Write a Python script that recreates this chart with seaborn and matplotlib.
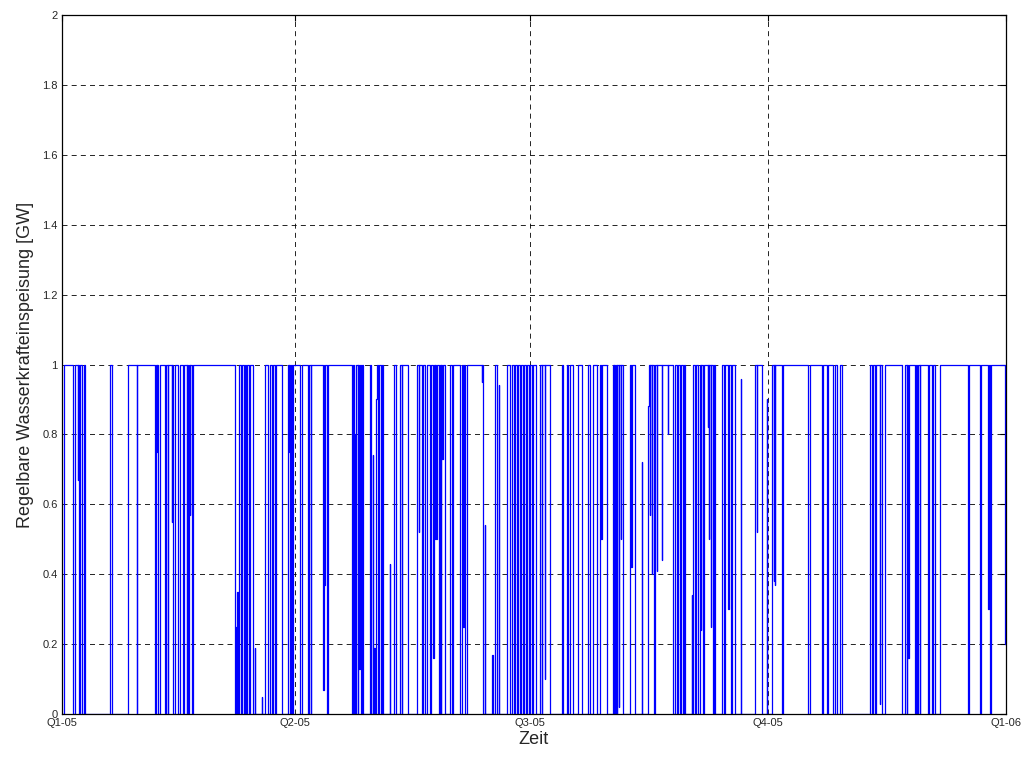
import matplotlib
matplotlib.use("Agg")
import matplotlib.pyplot as plt
import seaborn as sns
import pandas as pd

# Time of each level change (day of year 2005) and the level held from then on [GW]
t_day = [
    0.00, 0.89, 4.37, 5.03, 6.30, 6.38, 6.57, 7.15, 7.93, 8.51, 8.89,
    18.56, 19.33, 25.33, 25.52, 29.00, 29.19, 35.96, 36.35, 36.62, 36.73,
    37.12, 37.89, 39.82, 40.21, 40.98, 41.18, 42.42, 42.53, 42.92, 43.69,
    44.85, 45.62, 46.78, 47.29, 48.22, 48.52, 48.83, 49.10, 49.49, 49.61,
    50.26, 50.77, 66.89, 67.47, 67.55, 67.86, 67.93, 68.44, 69.21, 69.60,
    69.71, 70.37, 70.76, 71.34, 71.53, 72.30, 72.69, 73.85, 74.62, 74.70,
    77.33, 77.41, 78.49, 79.65, 80.42, 80.54, 81.20, 81.58, 82.36, 82.74,
    84.95, 87.50, 87.77, 87.89, 88.16, 88.54, 89.12, 89.51, 92.02, 92.68,
    95.00, 95.50, 96.28, 96.47, 101.03, 101.30, 101.42, 101.69, 102.35, 102.66,
    112.24, 112.71, 113.09, 113.29, 113.40, 113.68, 114.26, 114.45, 115.03, 115.22,
    115.61, 116.00, 116.50, 119.09, 119.67, 120.13, 120.25, 120.75, 121.02, 121.41,
    121.79, 122.18, 122.57, 123.34, 123.73, 124.23, 126.82, 126.94, 128.37, 128.48,
    129.14, 130.69, 131.34, 131.65, 133.90, 137.15, 138.03, 138.15, 139.08, 139.70,
    140.35, 141.01, 142.29, 142.67, 143.56, 143.68, 144.22, 144.34, 144.80, 144.99,
    145.77, 146.15, 146.54, 146.73, 147.04, 147.43, 148.09, 150.02, 150.68, 151.30,
    153.89, 154.54, 155.16, 155.28, 155.82, 156.48, 162.28, 162.39, 162.90, 163.55,
    163.67, 166.38, 166.49, 167.42, 168.19, 168.97, 169.08, 171.94, 172.06, 173.22,
    173.99, 174.77, 175.15, 175.93, 176.31, 177.09, 177.47, 178.25, 178.63, 179.41,
    179.79, 180.57, 180.95, 181.73, 182.11, 183.16, 183.27, 184.82, 185.48, 185.72,
    186.75, 186.87, 188.69, 188.80, 193.21, 193.83, 195.14, 195.76, 196.42, 197.58,
    199.63, 200.94, 203.50, 204.15, 205.31, 206.74, 208.02, 208.60, 208.71, 210.61,
    213.16, 213.43, 213.62, 214.01, 214.20, 214.59, 214.78, 215.36, 215.48, 216.14,
    216.33, 217.03, 219.62, 220.20, 220.39, 221.55, 224.14, 224.26, 226.69, 226.81,
    227.35, 227.47, 228.12, 228.24, 228.90, 229.28, 229.94, 230.06, 231.87, 231.99,
    234.19, 234.31, 236.36, 237.02, 237.79, 238.18, 238.95, 239.34, 240.11, 240.50,
    240.88, 243.47, 243.59, 244.09, 244.75, 245.14, 246.03, 246.68, 247.07, 247.19,
    247.84, 248.23, 249.78, 249.89, 250.16, 250.28, 250.94, 251.05, 251.71, 252.10,
    252.48, 255.07, 255.96, 256.35, 257.63, 257.74, 258.67, 259.06, 260.22, 262.54,
    262.65, 267.95, 268.61, 268.72, 270.54, 272.47, 272.59, 274.41, 274.52, 275.29,
    275.41, 275.68, 275.80, 278.27, 278.89, 288.33, 288.63, 289.21, 293.74, 294.36,
    295.67, 296.29, 298.22, 298.88, 299.54, 300.81, 301.47, 312.41, 313.19, 313.57,
    314.35, 314.73, 316.28, 316.39, 316.94, 318.21, 324.90, 325.95, 326.60, 326.91,
    327.22, 327.34, 329.81, 330.20, 330.59, 330.97, 331.75, 331.94, 334.95, 335.23,
    336.27, 336.77, 337.55, 339.48, 350.19, 350.58, 354.94, 355.33, 358.15, 358.27,
    358.81, 359.20, 364.61, 365.00,
]
p_gw = [
    0, 1, 0, 1, 0.67, 1, 0, 1, 0, 1, 0,
    1, 0, 0.9, 1, 0, 1, 0, 1, 0.75, 1,
    0, 1, 0, 1, 0, 1, 0.55, 1, 0, 1,
    0, 1, 0, 1, 0, 1, 0, 1, 0.57, 1,
    0, 1, 0, 0.25, 0, 0.35, 0, 1, 0, 0.86,
    1, 0, 1, 0, 1, 0, 1, 0, 0.19, 0,
    0.05, 0, 1, 0, 0.28, 1, 0, 1, 0, 1,
    0, 1, 0.75, 1, 0, 1, 0, 1, 0, 1,
    0, 1, 0, 1, 0.07, 1, 0.37, 1, 0, 1,
    0, 1, 0, 0.8, 0, 1, 0, 1, 0.13, 1,
    0, 1, 0, 1, 0, 0.74, 0, 0.19, 0, 0.9,
    1, 0, 1, 0, 1, 0, 0.43, 0, 0.5, 1,
    0, 1, 0, 1, 0, 1, 0.52, 1, 0, 1,
    0, 1, 0, 1, 0.16, 1, 0.5, 1, 0.5, 1,
    0, 1, 0, 1, 0.73, 1, 0, 1, 0, 1,
    0, 1, 0.25, 1, 0, 1, 0.95, 1, 0, 0.54,
    0, 0.17, 0, 1, 0, 0.94, 0, 0.84, 1, 0,
    1, 0, 1, 0, 1, 0, 1, 0, 1, 0,
    1, 0, 1, 0, 1, 0.13, 0, 1, 0, 1,
    0.1, 1, 0.22, 0, 1, 0, 1, 0, 1, 0,
    1, 0, 1, 0, 1, 0, 1, 0.5, 1, 0,
    1, 0, 1, 0, 1, 0, 1, 0.02, 1, 0.5,
    1, 0, 1, 0.42, 1, 0, 0.72, 0, 0.88, 1,
    0.57, 1, 0.4, 1, 0, 1, 0.41, 1, 0.44, 1,
    0.8, 1, 0, 1, 0, 1, 0, 1, 0, 1,
    0, 0.34, 0, 1, 0, 1, 0, 1, 0.24, 1,
    0, 1, 0.82, 1, 0.5, 1, 0.25, 1, 0, 1,
    0, 1, 0, 1, 0.3, 1, 0, 1, 0, 0.96,
    0, 1, 0.52, 1, 0, 0.9, 0, 0.48, 1, 0.38,
    1, 0.37, 1, 0, 1, 0.35, 0, 1, 0, 1,
    0, 1, 0, 1, 0, 1, 0, 1, 0, 1,
    0, 1, 0.03, 1, 0, 1, 0, 1, 0, 1,
    0.16, 1, 0, 1, 0, 1, 0, 1, 0, 1,
    0, 1, 0, 1, 0, 1, 0, 1, 0.3, 1,
    0, 1, 0.2, 0.2,
]

quarter_pos = [0, 90, 181, 273, 365]
quarter_labels = ["Q1-05", "Q2-05", "Q3-05", "Q4-05", "Q1-06"]
y_ticks = [0, 0.2, 0.4, 0.6, 0.8, 1.0, 1.2, 1.4, 1.6, 1.8, 2.0]
y_labels = ["0", "0.2", "0.4", "0.6", "0.8", "1", "1.2", "1.4", "1.6", "1.8", "2"]

df = pd.DataFrame({"Zeit": t_day, "P": p_gw})

sns.set_style("white")
plt.rcParams["font.family"] = ["Liberation Sans", "DejaVu Sans"]

fig = plt.figure(figsize=(10.28, 7.58), dpi=100)
ax = fig.add_axes([0.0603, 0.058, 0.9183, 0.9222])

sns.lineplot(data=df, x="Zeit", y="P", ax=ax, color="#0000ff", linewidth=0.9,
             drawstyle="steps-post", estimator=None, sort=False, zorder=3)

ax.set_xlim(0, 365)
ax.set_ylim(0, 2)
ax.set_xticks(quarter_pos)
ax.set_xticklabels(quarter_labels, fontsize=8)
ax.set_yticks(y_ticks)
ax.set_yticklabels(y_labels, fontsize=8)
ax.tick_params(direction="in", length=4, width=0.8, color="black", pad=3,
               top=True, right=True)
ax.grid(True, color="black", linestyle=(0, (6, 5)), linewidth=0.6, zorder=1)
ax.set_axisbelow(True)
for s in ax.spines.values():
    s.set_color("black")
    s.set_linewidth(0.9)
    s.set_zorder(4)

ax.set_xlabel("Zeit", fontsize=13, labelpad=2)
ax.set_ylabel("Regelbare Wasserkrafteinspeisung [GW]", fontsize=13, labelpad=6)

fig.savefig("out.png", dpi=100)
